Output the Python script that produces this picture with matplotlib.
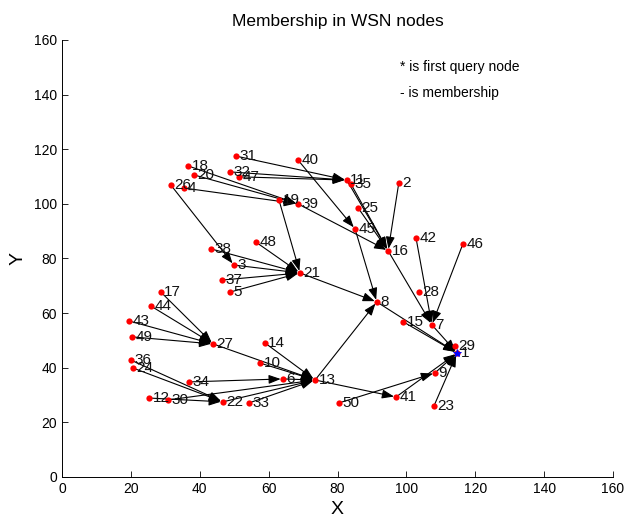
import matplotlib
matplotlib.use("Agg")
import matplotlib.pyplot as plt

plt.rcParams['font.family'] = ['Liberation Sans', 'DejaVu Sans']

# Node positions (id, x, y)
node_ids = list(range(1, 51))
node_x = [114.7, 97.8, 49.9, 35.4, 48.8, 64.1, 107.4, 91.4, 108.3, 57.5,
          82.7, 25.3, 73.5, 58.9, 99.1, 94.7, 28.7, 36.6, 63.0, 38.3,
          69.1, 46.7, 108.0, 20.6, 86.0, 31.6, 43.9, 103.7, 114.1, 30.8,
          50.5, 48.8, 54.3, 36.9, 83.9, 20.0, 46.5, 43.3, 68.5, 68.5,
          97.0, 102.8, 19.5, 25.8, 85.1, 116.4, 51.4, 56.3, 20.3, 80.4]
node_y = [45.4, 107.7, 77.6, 105.8, 67.7, 35.9, 55.7, 64.1, 38.1, 41.7,
          108.7, 28.9, 35.5, 49.1, 56.8, 82.8, 67.7, 113.9, 101.4, 110.6,
          74.7, 27.5, 26.0, 39.9, 98.5, 106.9, 48.7, 67.7, 48.0, 28.2,
          117.5, 111.7, 27.1, 34.8, 107.3, 42.8, 72.1, 83.5, 100.0, 116.1,
          29.3, 87.5, 57.1, 62.6, 90.8, 85.3, 109.9, 86.0, 51.3, 27.1]

# Membership links: member -> head
member = [2, 3, 4, 5, 6, 7, 8, 9, 10, 11, 12, 13, 13, 14, 15, 16, 17, 18,
          19, 20, 21, 22, 23, 24, 25, 26, 27, 30, 31, 32, 33, 34, 35, 36,
          37, 38, 39, 40, 41, 42, 43, 44, 45, 46, 47, 48, 49, 50]
head = [16, 21, 39, 21, 13, 1, 1, 1, 13, 16, 22, 8, 41, 13, 1, 7, 27, 39,
        21, 39, 8, 13, 1, 22, 16, 3, 13, 13, 11, 11, 13, 6, 16, 22,
        21, 21, 16, 45, 1, 7, 27, 27, 8, 7, 11, 21, 27, 9]

query_node = 1

pos = {n: (x, y) for n, x, y in zip(node_ids, node_x, node_y)}

fig = plt.figure(figsize=(6.27, 5.26), dpi=100)
ax = fig.add_axes([0.0989, 0.0932, 0.8788, 0.8308])

for a, b in zip(member, head):
    ax.annotate("", xy=pos[b], xytext=pos[a],
                arrowprops=dict(arrowstyle="-|>,head_length=0.8,head_width=0.3",
                                mutation_scale=9, color="black", lw=0.8,
                                shrinkA=0, shrinkB=1.5),
                zorder=2)

ax.plot(node_x, node_y, "o", color="red", markersize=4.5,
        markeredgewidth=0, zorder=3)
qx, qy = pos[query_node]
ax.plot([qx], [qy], "*", color="blue", markersize=6, markeredgewidth=0.6,
        zorder=4)

for n, x, y in zip(node_ids, node_x, node_y):
    ax.text(x + 1.0, y, str(n), fontsize=11, ha="left", va="center",
            color="#111111", zorder=5)

ax.text(98, 150, "* is first query node", fontsize=10, ha="left", va="center")
ax.text(98, 140.5, "- is membership", fontsize=10, ha="left", va="center")

ax.set_xlim(0, 160)
ax.set_ylim(0, 160)
ax.set_xticks(range(0, 161, 20))
ax.set_yticks(range(0, 161, 20))
ax.tick_params(direction="in", length=4, width=0.6, labelsize=10,
               top=False, right=False)
for s in ("top", "right"):
    ax.spines[s].set_visible(False)
for s in ("left", "bottom"):
    ax.spines[s].set_linewidth(0.7)

ax.set_title("Membership in WSN nodes", fontsize=12.5, pad=10)
ax.set_xlabel("X", fontsize=14, labelpad=4)
ax.set_ylabel("Y", fontsize=14, labelpad=5)

fig.savefig("out.png", dpi=100)
